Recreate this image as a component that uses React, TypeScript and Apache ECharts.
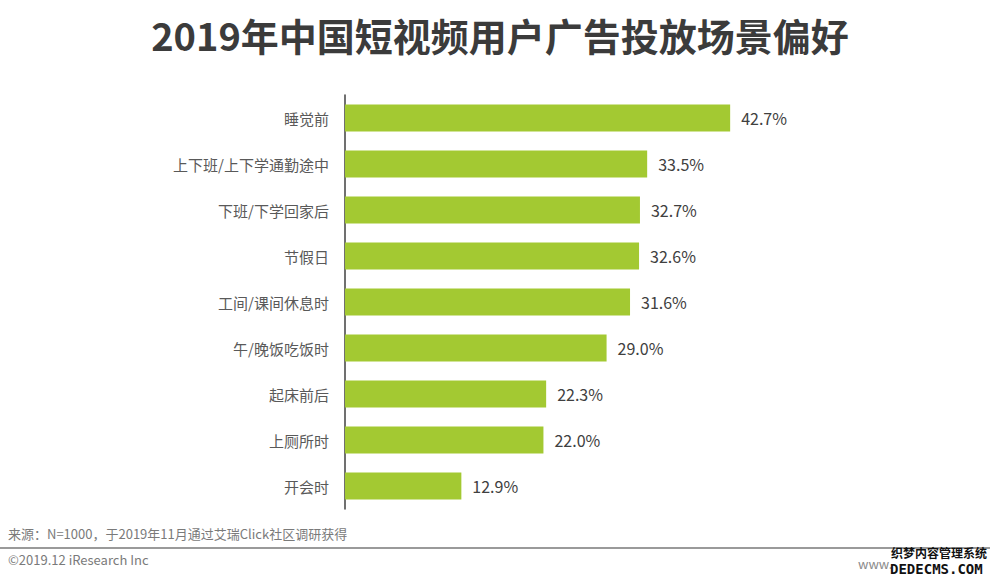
import React, { useEffect, useRef } from "react";
import * as echarts from "echarts";

const categories = ["睡觉前", "上下班/上下学通勤途中", "下班/下学回家后", "节假日", "工间/课间休息时", "午/晚饭吃饭时", "起床前后", "上厕所时", "开会时"];
const values = [42.7, 33.5, 32.7, 32.6, 31.6, 29.0, 22.3, 22.0, 12.9];
const titleText = "2019年中国短视频用户广告投放场景偏好";
const sourceText = "来源：N=1000，于2019年11月通过艾瑞Click社区调研获得";
const copyrightText = "©2019.12 iResearch Inc";

export default function App() {
  const ref = useRef<HTMLDivElement>(null);
  useEffect(() => {
    const chart = echarts.init(ref.current!, null, { renderer: "svg" });
    const font = "'Noto Sans CJK SC', 'Microsoft YaHei', sans-serif";
    chart.setOption({
      animation: false,
      backgroundColor: "#ffffff",
      textStyle: { fontFamily: font },
      title: {
        text: titleText,
        left: "center",
        top: 10,
        textStyle: { fontSize: 38, fontWeight: "bold", color: "#3b3b3b", fontFamily: font },
      },
      grid: { left: 345, top: 95, height: 414, width: 451 },
      xAxis: {
        type: "value",
        min: 0,
        max: 50,
        show: false,
      },
      yAxis: {
        type: "category",
        data: categories,
        inverse: true,
        axisLine: { show: true, lineStyle: { color: "#404040", width: 1.5 } },
        axisTick: { show: false },
        axisLabel: { color: "#595959", fontSize: 15, margin: 16, fontFamily: font },
      },
      series: [
        {
          type: "bar",
          data: values,
          barWidth: 27,
          itemStyle: { color: "#a3c932" },
          label: {
            show: true,
            position: "right",
            distance: 11,
            color: "#404040",
            fontSize: 16,
            fontFamily: font,
            formatter: (p: any) => p.value.toFixed(1) + "%",
          },
        },
      ],
      graphic: [
        {
          type: "text",
          left: 8,
          top: 527,
          style: { text: sourceText, fill: "#7a7a7a", fontSize: 13, fontFamily: font },
        },
        {
          type: "line",
          shape: { x1: 0, y1: 548, x2: 990, y2: 548 },
          style: { stroke: "#9a9a9a", lineWidth: 2 },
        },
        {
          type: "text",
          left: 8,
          top: 553,
          style: { text: copyrightText, fill: "#7a7a7a", fontSize: 13, fontFamily: font },
        },
        {
          type: "text",
          left: 858,
          top: 557,
          style: { text: "www.", fill: "#8a8a8a", fontSize: 13, fontFamily: font },
        },
        {
          type: "text",
          left: 891,
          top: 546,
          style: { text: "织梦内容管理系统", fill: "#111", fontSize: 12, fontWeight: "bold", fontFamily: font },
        },
        {
          type: "text",
          left: 890,
          top: 562,
          style: { text: "DEDECMS.COM", fill: "#111", fontSize: 14, fontWeight: "bold", fontFamily: "DejaVu Sans Mono, monospace" },
        },
      ],
    });
    return () => chart.dispose();
  }, []);
  return <div ref={ref} style={{ width: 1000, height: 582, position: "absolute", left: 0, top: 0 }} />;
}
